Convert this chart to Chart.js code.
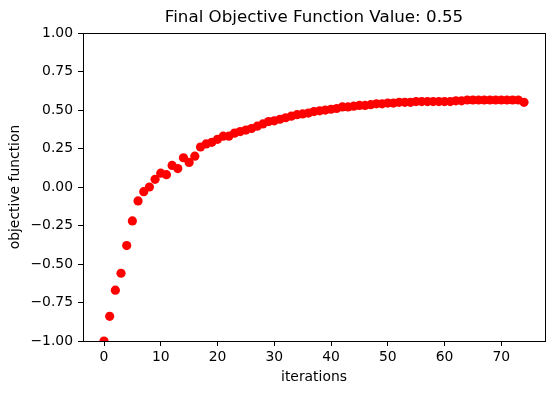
<!DOCTYPE html>
<html lang="en">
<head>
    <meta charset="UTF-8">
    <title>Final Objective Function Value</title>
    <script src="https://cdn.jsdelivr.net/npm/chart.js"></script>
    <style>
        body { margin: 0; background: #fff; }
        #wrap { width: 556px; height: 393px; }
    </style>
</head>
<body>
    <div id="wrap">
        <canvas id="objChart" width="556" height="393"></canvas>
    </div>

    <script>
        // Datos
        const iterations = [
            0, 1, 2, 3, 4, 5, 6, 7, 8, 9, 10, 11, 12, 13, 14, 15, 16, 17, 18, 19,
            20, 21, 22, 23, 24, 25, 26, 27, 28, 29, 30, 31, 32, 33, 34, 35, 36, 37, 38, 39,
            40, 41, 42, 43, 44, 45, 46, 47, 48, 49, 50, 51, 52, 53, 54, 55, 56, 57, 58, 59,
            60, 61, 62, 63, 64, 65, 66, 67, 68, 69, 70, 71, 72, 73, 74
        ];
        const objective = [
            -1.00, -0.84, -0.67, -0.56, -0.38, -0.22, -0.09, -0.03, 0.00, 0.05,
            0.09, 0.08, 0.14, 0.12, 0.19, 0.16, 0.20, 0.26, 0.28, 0.29,
            0.31, 0.33, 0.33, 0.35, 0.36, 0.37, 0.38, 0.395, 0.41, 0.425,
            0.43, 0.44, 0.45, 0.46, 0.47, 0.475, 0.48, 0.49, 0.495, 0.50,
            0.505, 0.51, 0.52, 0.52, 0.525, 0.53, 0.53, 0.535, 0.54, 0.54,
            0.545, 0.545, 0.55, 0.55, 0.55, 0.555, 0.555, 0.555, 0.555, 0.555,
            0.555, 0.555, 0.56, 0.56, 0.565, 0.565, 0.565, 0.565, 0.565, 0.565,
            0.565, 0.565, 0.565, 0.565, 0.55
        ];
        const xTicks = [0, 10, 20, 30, 40, 50, 60, 70];
        const yTicks = [-1.00, -0.75, -0.50, -0.25, 0.00, 0.25, 0.50, 0.75, 1.00];
        const finalValue = objective[objective.length - 1];

        const points = iterations.map((it, i) => ({ x: it, y: objective[i] }));

        // marco completo alrededor del área (como matplotlib)
        const frame = {
            id: 'frame',
            afterDraw(chart) {
                const a = chart.chartArea, c = chart.ctx;
                c.save();
                c.strokeStyle = '#000';
                c.lineWidth = 1;
                c.strokeRect(Math.round(a.left) + 0.5, Math.round(a.top) + 0.5,
                    Math.round(a.right - a.left), Math.round(a.bottom - a.top));
                c.restore();
            }
        };

        const font = { family: 'DejaVu Sans', size: 13.9 };

        new Chart(document.getElementById('objChart'), {
            type: 'scatter',
            data: {
                datasets: [{
                    label: 'objective',
                    data: points,
                    backgroundColor: '#ff0000',
                    borderWidth: 0,
                    pointRadius: 4.6,
                    pointHoverRadius: 4.6
                }]
            },
            options: {
                responsive: false,
                animation: false,
                layout: { padding: { left: 0, right: 11, top: 0, bottom: 0 } },
                plugins: {
                    legend: { display: false },
                    tooltip: { enabled: false },
                    title: {
                        display: true,
                        fullSize: false,
                        text: 'Final Objective Function Value: ' + finalValue.toFixed(2),
                        color: '#000',
                        font: { family: 'DejaVu Sans', size: 16.7, weight: 'normal', lineHeight: 1.2 },
                        padding: { top: 8, bottom: 5 }
                    }
                },
                scales: {
                    x: {
                        type: 'linear',
                        min: -3.7,
                        max: 77.7,
                        afterBuildTicks: s => { s.ticks = xTicks.map(v => ({ value: v })); },
                        afterFit: s => { s.height = 52; },
                        grid: { drawOnChartArea: false, tickLength: 5, color: '#000', tickColor: '#000' },
                        border: { display: false },
                        ticks: { color: '#000', font: font, padding: 3, maxRotation: 0 },
                        title: { display: true, text: 'iterations', color: '#000', font: font, padding: { top: 0, bottom: 7 } }
                    },
                    y: {
                        type: 'linear',
                        min: -1,
                        max: 1,
                        afterBuildTicks: s => { s.ticks = yTicks.map(v => ({ value: v })); },
                        afterFit: s => { s.width = 83; },
                        grid: { drawOnChartArea: false, tickLength: 5, color: '#000', tickColor: '#000' },
                        border: { display: false },
                        ticks: {
                            color: '#000', font: font, padding: 5,
                            callback: v => v.toFixed(2).replace('-', '\u2212')
                        },
                        title: { display: true, text: 'objective function', color: '#000', font: font, padding: { top: 7, bottom: 4 } }
                    }
                }
            },
            plugins: [frame]
        });
    </script>
</body>
</html>
